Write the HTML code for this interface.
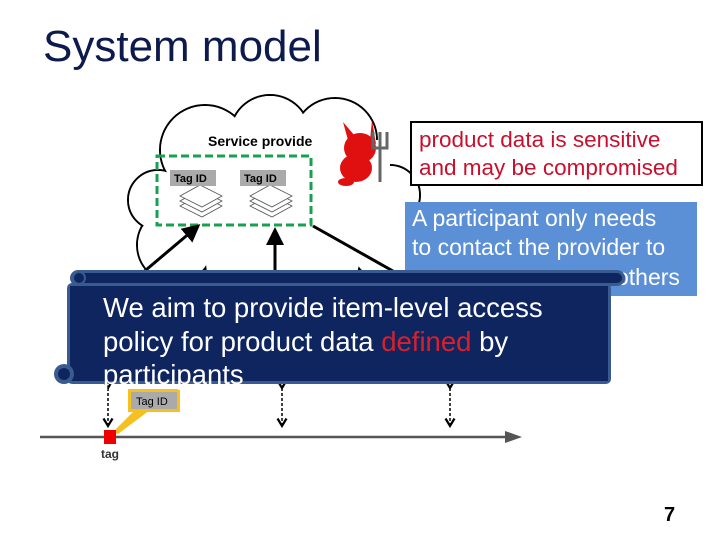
<!DOCTYPE html>
<html><head><style>
body{margin:0;width:720px;height:540px;background:#fff;position:relative;overflow:hidden;font-family:"Liberation Sans",sans-serif}
.abs{position:absolute}
</style></head><body>
<div class="abs" style="left:43px;top:22px;font-size:44px;color:#0d1a4d">System model</div>

<svg class="abs" style="left:0;top:0" width="720" height="540">
<defs>
<marker id="ah" markerWidth="6" markerHeight="6" refX="5" refY="3" orient="auto"><path d="M0,0 L6,3 L0,6 z" fill="#000"/></marker>
<marker id="oa" markerWidth="8" markerHeight="8" refX="6" refY="4" orient="auto"><path d="M1,1 L6,4 L1,7" fill="none" stroke="#000" stroke-width="1.5"/></marker>
</defs>
<g stroke="#000" stroke-width="2" fill="#fff">
<circle cx="205" cy="150" r="45"/>
<circle cx="270" cy="135" r="40"/>
<circle cx="335" cy="140" r="42"/>
<circle cx="390" cy="195" r="30"/>
<circle cx="385" cy="245" r="35"/>
<circle cx="320" cy="260" r="40"/>
<circle cx="245" cy="262" r="40"/>
<circle cx="175" cy="245" r="38"/>
<circle cx="158" cy="200" r="30"/>
</g>
<g fill="#fff">
<circle cx="205" cy="150" r="44"/>
<circle cx="270" cy="135" r="39"/>
<circle cx="335" cy="140" r="41"/>
<circle cx="390" cy="195" r="29"/>
<circle cx="385" cy="245" r="34"/>
<circle cx="320" cy="260" r="39"/>
<circle cx="245" cy="262" r="39"/>
<circle cx="175" cy="245" r="37"/>
<circle cx="158" cy="200" r="29"/>
<rect x="170" y="140" width="220" height="120"/>
</g>
<text x="208" y="146" font-size="14" font-weight="bold">Service provide</text>
<rect x="157" y="156" width="154" height="69" fill="none" stroke="#1aa050" stroke-width="3" stroke-dasharray="8,4"/>
<g fill="#fff" stroke="#555" stroke-width="0.8">
<path d="M180,206 L200,195 L222,206 L202,217 z"/><path d="M180,201 L200,190 L222,201 L202,212 z"/><path d="M180,196 L200,185 L222,196 L202,207 z"/>
<path d="M250,206 L270,195 L292,206 L272,217 z"/><path d="M250,201 L270,190 L292,201 L272,212 z"/><path d="M250,196 L270,185 L292,196 L272,207 z"/>
</g>
<rect x="170" y="170" width="46" height="16" fill="#aaa"/>
<text x="174" y="182" font-size="11" font-weight="bold">Tag ID</text>
<rect x="240" y="170" width="46" height="16" fill="#aaa"/>
<text x="244" y="182" font-size="11" font-weight="bold">Tag ID</text>
<g fill="#e01010">
<ellipse cx="360" cy="148" rx="16" ry="15"/><ellipse cx="356" cy="168" rx="16" ry="14"/>
<path d="M348,140 L343,122 L355,136 z"/><path d="M370,140 L372,120 L376,144 z"/>
<ellipse cx="346" cy="182" rx="8" ry="4"/>
</g>
<path d="M380,182 L380,148 M373,132 L373,148 L387,148 L387,132 M380,132 L380,148" stroke="#666" stroke-width="3" fill="none"/>
<g stroke="#000" stroke-width="3">
<line x1="140" y1="275" x2="198" y2="226" marker-end="url(#ah)"/>
<line x1="275" y1="272" x2="275" y2="230" marker-end="url(#ah)"/>
<line x1="313" y1="226" x2="400" y2="275"/>
</g>
<g stroke="#000" stroke-width="1.5" stroke-dasharray="3,2" fill="none">
<line x1="108" y1="388" x2="108" y2="426" marker-end="url(#oa)" marker-start="url(#oa)"/>
<line x1="282" y1="388" x2="282" y2="426" marker-end="url(#oa)" marker-start="url(#oa)"/>
<line x1="450" y1="388" x2="450" y2="426" marker-end="url(#oa)" marker-start="url(#oa)"/>
</g>
<line x1="40" y1="437" x2="508" y2="437" stroke="#555" stroke-width="2.5"/>
<path d="M505,431 L522,437 L505,443 z" fill="#555"/>
<path d="M113,432 L135,410 L150,410 L118,434 z" fill="#f5c020"/>
<rect x="104" y="430" width="12" height="14" fill="#e00"/>
<text x="101" y="458" font-size="12" font-weight="bold" fill="#333">tag</text>
<rect x="128" y="389" width="52" height="23" fill="#f5c020"/>
<rect x="131" y="392" width="46" height="17" fill="#aaa"/>
<text x="136" y="405" font-size="11">Tag ID</text>
</svg>

<div class="abs" style="left:410px;top:121px;border:2px solid #000;background:#fff;color:#c8102e;font-size:22.5px;line-height:28px;padding:3px 0 0 7px;box-sizing:border-box;width:293px;height:65px;white-space:nowrap;overflow:hidden">product data is sensitive<br>and may be compromised</div>
<div class="abs" style="left:405px;top:202px;width:292px;height:94px;background:#5b8fd6;color:#fff;font-size:23px;line-height:29px;padding:2px 0 0 7px;box-sizing:border-box;white-space:nowrap">A participant only needs<br>to contact the provider to<br>&nbsp;</div>
<div class="abs" style="left:616px;top:264px;color:#fff;font-size:23px">others</div>
<svg class="abs" style="left:0;top:0" width="720" height="540">
<rect x="70" y="270" width="555" height="16" rx="8" fill="#3a5b8f"/>
<rect x="73" y="273" width="549" height="10" rx="5" fill="#0f2560"/>
<rect x="67" y="283" width="544" height="101" rx="5" fill="#3a5b8f"/>
<rect x="70" y="286" width="538" height="95" fill="#0f2560"/>
<circle cx="64" cy="374" r="10" fill="#3a5b8f"/>
<circle cx="64" cy="374" r="6" fill="#0f2560"/>
<circle cx="79" cy="278" r="6" fill="#0f2560" stroke="#3a5b8f" stroke-width="2"/>
</svg>
<div class="abs" style="left:103px;top:291px;color:#fff;font-size:27.5px;line-height:33.5px;width:500px;white-space:nowrap">We aim to provide item-level access<br>policy for product data <span style="color:#d8202c">defined</span> by<br>participants</div>
<div class="abs" style="left:664px;top:504px;font-size:20px;font-weight:bold">7</div>
</body></html>
